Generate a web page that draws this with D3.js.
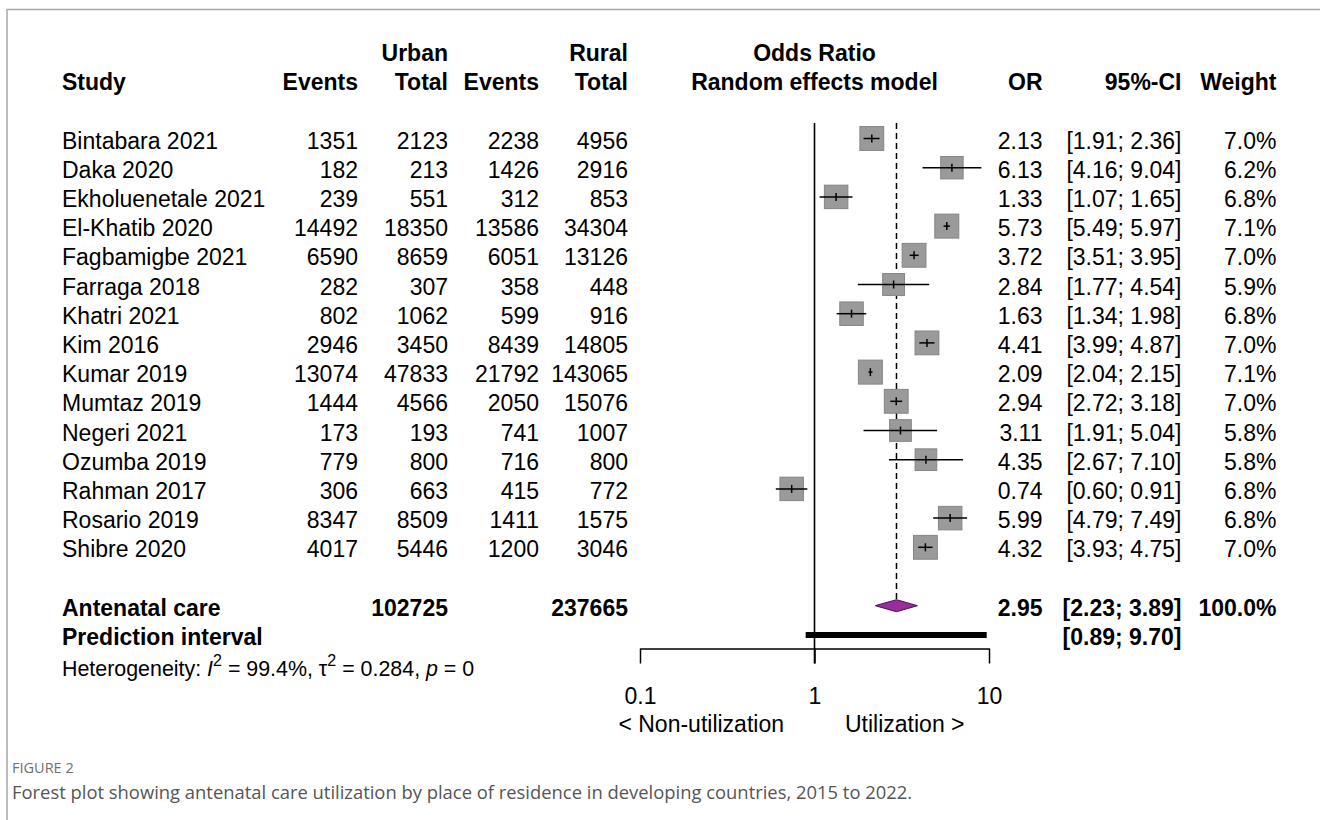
<!DOCTYPE html>
<html>
<head>
<meta charset="utf-8">
<script src="https://cdn.jsdelivr.net/npm/d3@7"></script>
<style>
  html, body { margin: 0; padding: 0; background: #fff; }
  svg { display: block; }
  .t { font-family: "Liberation Sans", Arial, sans-serif; font-size: 23px; fill: #000; }
  .b { font-weight: bold; }
</style>
</head>
<body>
<svg id="chart" width="1320" height="820"></svg>
<script>
// ---------- data ----------
const studies = ["Bintabara 2021", "Daka 2020", "Ekholuenetale 2021", "El-Khatib 2020", "Fagbamigbe 2021",
  "Farraga 2018", "Khatri 2021", "Kim 2016", "Kumar 2019", "Mumtaz 2019", "Negeri 2021", "Ozumba 2019",
  "Rahman 2017", "Rosario 2019", "Shibre 2020"];
const urbanEvents = [1351, 182, 239, 14492, 6590, 282, 802, 2946, 13074, 1444, 173, 779, 306, 8347, 4017];
const urbanTotal  = [2123, 213, 551, 18350, 8659, 307, 1062, 3450, 47833, 4566, 193, 800, 663, 8509, 5446];
const ruralEvents = [2238, 1426, 312, 13586, 6051, 358, 599, 8439, 21792, 2050, 741, 716, 415, 1411, 1200];
const ruralTotal  = [4956, 2916, 853, 34304, 13126, 448, 916, 14805, 143065, 15076, 1007, 800, 772, 1575, 3046];
const oddsRatio   = [2.13, 6.13, 1.33, 5.73, 3.72, 2.84, 1.63, 4.41, 2.09, 2.94, 3.11, 4.35, 0.74, 5.99, 4.32];
const ciLower     = [1.91, 4.16, 1.07, 5.49, 3.51, 1.77, 1.34, 3.99, 2.04, 2.72, 1.91, 2.67, 0.60, 4.79, 3.93];
const ciUpper     = [2.36, 9.04, 1.65, 5.97, 3.95, 4.54, 1.98, 4.87, 2.15, 3.18, 5.04, 7.10, 0.91, 7.49, 4.75];
const weights     = [7.0, 6.2, 6.8, 7.1, 7.0, 5.9, 6.8, 7.0, 7.1, 7.0, 5.8, 5.8, 6.8, 6.8, 7.0];

const pooledLabel = "Antenatal care";
const pooledUrbanTotal = 102725;
const pooledRuralTotal = 237665;
const pooled = [2.95, 2.23, 3.89];
const pooledWeight = 100.0;
const predictionLabel = "Prediction interval";
const prediction = [0.89, 9.70];
const hetI2 = "99.4%", hetTau2 = "0.284", hetP = "0";

const axisTicks = [0.1, 1, 10];
const axisTickLabels = ["0.1", "1", "10"];
const labelLeft = "< Non-utilization";
const labelRight = "Utilization >";
const figureLabel = "FIGURE 2";
const captionText = "Forest plot showing antenatal care utilization by place of residence in developing countries, 2015 to 2022.";

// ---------- layout ----------
const svg = d3.select("#chart");
const x = d3.scaleLog().domain([0.1, 10]).range([640, 989]);
const row = d3.scaleLinear().domain([0, 1]).range([138.5, 167.7]); // row index -> vertical centre
const base = i => row(i) + 10;   // text baseline

const col = { study: 62, uEv: 358, uTot: 448, rEv: 539, rTot: 628, or: 1042.5, ci: 1181.5, w: 1276.5 };
const fmt2 = d3.format(".2f");
const fmt1 = d => d3.format(".1f")(d) + "%";
const ci = (l, u) => "[" + fmt2(l) + "; " + fmt2(u) + "]";

// frame
svg.append("line").attr("x1", 7).attr("x2", 1320).attr("y1", 9.5).attr("y2", 9.5)
  .attr("stroke", "#a6a6a6").attr("stroke-width", 1.5);
svg.append("line").attr("x1", 7).attr("x2", 7).attr("y1", 9).attr("y2", 820)
  .attr("stroke", "#a6a6a6").attr("stroke-width", 1.5);

function txt(xp, yp, s, anchor, bold) {
  return svg.append("text").attr("class", "t" + (bold ? " b" : ""))
    .attr("x", xp).attr("y", yp).attr("text-anchor", anchor || "start").text(s);
}

// headers
txt(col.uTot, base(-3), "Urban", "end", true);
txt(col.rTot, base(-3), "Rural", "end", true);
txt(814.5, base(-3), "Odds Ratio", "middle", true);
txt(col.study, base(-2), "Study", "start", true);
txt(col.uEv, base(-2), "Events", "end", true);
txt(col.uTot, base(-2), "Total", "end", true);
txt(col.rEv, base(-2), "Events", "end", true);
txt(col.rTot, base(-2), "Total", "end", true);
txt(814.5, base(-2), "Random effects model", "middle", true);
txt(col.or, base(-2), "OR", "end", true);
txt(col.ci, base(-2), "95%-CI", "end", true);
txt(col.w, base(-2), "Weight", "end", true);

// study rows text
studies.forEach((s, i) => {
  txt(col.study, base(i), s, "start");
  txt(col.uEv, base(i), urbanEvents[i], "end");
  txt(col.uTot, base(i), urbanTotal[i], "end");
  txt(col.rEv, base(i), ruralEvents[i], "end");
  txt(col.rTot, base(i), ruralTotal[i], "end");
  txt(col.or, base(i), fmt2(oddsRatio[i]), "end");
  txt(col.ci, base(i), ci(ciLower[i], ciUpper[i]), "end");
  txt(col.w, base(i), fmt1(weights[i]), "end");
});

const iPooled = studies.length + 1, iPred = studies.length + 2, iHet = studies.length + 3;
txt(col.study, base(iPooled), pooledLabel, "start", true);
txt(col.uTot, base(iPooled), pooledUrbanTotal, "end", true);
txt(col.rTot, base(iPooled), pooledRuralTotal, "end", true);
txt(col.or, base(iPooled), fmt2(pooled[0]), "end", true);
txt(col.ci, base(iPooled), ci(pooled[1], pooled[2]), "end", true);
txt(col.w, base(iPooled), fmt1(pooledWeight), "end", true);
txt(col.study, base(iPred), predictionLabel, "start", true);
txt(col.ci, base(iPred), ci(prediction[0], prediction[1]), "end", true);

// heterogeneity
const het = svg.append("text").attr("class", "t").style("font-size", "21.4px")
  .attr("x", col.study).attr("y", base(iHet) + 1.5);
het.append("tspan").text("Heterogeneity: ");
het.append("tspan").style("font-style", "italic").text("I");
het.append("tspan").style("font-size", "16px").attr("dy", -10).text("2");
het.append("tspan").attr("dy", 10).text(" = " + hetI2 + ", τ");
het.append("tspan").style("font-size", "16px").attr("dy", -10).text("2");
het.append("tspan").attr("dy", 10).text(" = " + hetTau2 + ", ");
het.append("tspan").style("font-style", "italic").text("p");
het.append("tspan").text(" = " + hetP);

// plot: reference lines
const plotTop = 123, axisY = 648.5, tickLen = 15;
svg.append("line").attr("x1", x(1)).attr("x2", x(1)).attr("y1", plotTop).attr("y2", axisY + tickLen)
  .attr("stroke", "#000").attr("stroke-width", 1.6);
const diamondHalfH = 6;
svg.append("line").attr("x1", x(pooled[0])).attr("x2", x(pooled[0]))
  .attr("y1", plotTop).attr("y2", row(iPooled) - diamondHalfH)
  .attr("stroke", "#000").attr("stroke-width", 1.5).attr("stroke-dasharray", "6,4");

// squares
const maxW = d3.max(weights);
const size = w => 24 * Math.sqrt(w / maxW);
const g = svg.append("g");
studies.forEach((s, i) => {
  const cx = x(oddsRatio[i]), cy = row(i), sz = size(weights[i]);
  g.append("rect").attr("x", cx - sz / 2).attr("y", cy - sz / 2).attr("width", sz).attr("height", sz)
    .attr("fill", "#9a9a9a").attr("stroke", "#858585").attr("stroke-width", 1);
  g.append("line").attr("x1", x(ciLower[i])).attr("x2", x(ciUpper[i])).attr("y1", cy).attr("y2", cy)
    .attr("stroke", "#000").attr("stroke-width", 1.5);
  g.append("line").attr("x1", cx).attr("x2", cx).attr("y1", cy - 4).attr("y2", cy + 4)
    .attr("stroke", "#000").attr("stroke-width", 1.5);
});

// diamond
const dy0 = row(iPooled);
svg.append("polygon")
  .attr("points", [[x(pooled[1]), dy0], [x(pooled[0]), dy0 - diamondHalfH], [x(pooled[2]), dy0], [x(pooled[0]), dy0 + diamondHalfH]].map(p => p.join(",")).join(" "))
  .attr("fill", "#9b2c9e").attr("stroke", "#4a0f4c").attr("stroke-width", 1);

// prediction interval
svg.append("line").attr("x1", x(prediction[0])).attr("x2", x(prediction[1]))
  .attr("y1", row(iPred)).attr("y2", row(iPred)).attr("stroke", "#000").attr("stroke-width", 6);

// axis
const axis = d3.axisBottom(x).tickValues(axisTicks)
  .tickFormat((d, i) => axisTickLabels[i]).tickSize(tickLen).tickSizeOuter(0).tickPadding(24);
const ax = svg.append("g").attr("transform", `translate(0,${axisY})`).call(axis);
ax.select(".domain").attr("stroke", "#000").attr("stroke-width", 1.5);
ax.selectAll(".tick line").attr("stroke", "#000").attr("stroke-width", 1.5);
ax.selectAll(".tick text").attr("class", "t").attr("fill", "#000")
  .style("font-family", '"Liberation Sans", Arial, sans-serif').style("font-size", "23px");

txt(784, 731.5, labelLeft, "end");
txt(845, 731.5, labelRight, "start");

// caption
svg.append("text").attr("x", 12).attr("y", 773).text(figureLabel)
  .style("font-family", '"Open Sans", sans-serif').style("font-size", "14.5px").attr("fill", "#707070");
svg.append("text").attr("x", 12).attr("y", 799).text(captionText)
  .style("font-family", '"Open Sans", sans-serif').style("font-size", "18.4px").attr("fill", "#555");
</script>
</body>
</html>
